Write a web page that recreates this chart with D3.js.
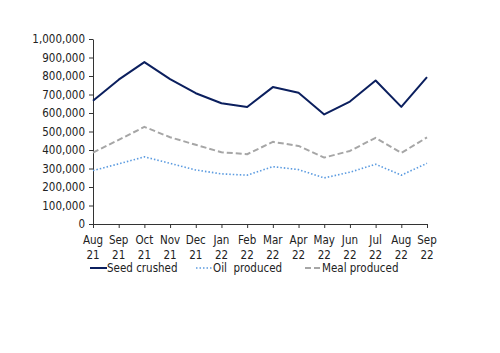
<!DOCTYPE html>
<html>
<head>
<meta charset="utf-8">
<script src="https://cdn.jsdelivr.net/npm/d3@7"></script>
<style>
  body { margin: 0; background: #fff; }
  svg text { font-family: "DejaVu Sans Condensed", "DejaVu Sans", sans-serif; font-size: 11px; fill: #222; }
</style>
</head>
<body>
<svg id="chart" width="500" height="353"></svg>
<script>
// months along the x axis (two-line labels)
var months = ["Aug 21","Sep 21","Oct 21","Nov 21","Dec 21","Jan 22","Feb 22","Mar 22","Apr 22","May 22","Jun 22","Jul 22","Aug 22","Sep 22"];

var seedCrushed   = [666000, 780000, 875000, 783000, 707000, 653000, 632000, 740000, 709000, 592000, 662000, 776000, 633000, 794000];
var oilProduced   = [289000, 325000, 363000, 328000, 292000, 271000, 264000, 310000, 294000, 249000, 280000, 323000, 264000, 328000];
var mealProduced  = [386000, 455000, 525000, 469000, 428000, 388000, 377000, 444000, 422000, 359000, 395000, 466000, 384000, 468000];

var yTicks = [0,100000,200000,300000,400000,500000,600000,700000,800000,900000,1000000];

var series = [
    {name: "Seed crushed",  values: seedCrushed,  color: "#0b1f5e", width: 2,   dash: null},
    {name: "Oil  produced", values: oilProduced,  color: "#5b9be0", width: 1.6, dash: "1.5,2"},
    {name: "Meal produced", values: mealProduced, color: "#a6a6a6", width: 2,   dash: "6,3"}
];

var svg = d3.select("#chart"),
    margin = {top: 39, left: 93, bottom: 129, right: 73},
    width = 500,
    height = 353;

var x = d3.scalePoint()
    .domain(months)
    .range([margin.left, width - margin.right]);

var y = d3.scaleLinear()
    .domain([0, 1000000])
    .range([height - margin.bottom, margin.top]);

var fmt = d3.format(",");

// y axis
var yAxis = svg.append("g")
    .attr("transform", `translate(${margin.left},0)`)
    .call(d3.axisLeft(y).tickValues(yTicks).tickFormat(fmt).tickSize(4).tickSizeOuter(0).tickPadding(4));

// x axis
var xAxis = svg.append("g")
    .attr("transform", `translate(0,${y(0)})`)
    .call(d3.axisBottom(x).tickSize(4).tickSizeOuter(0).tickFormat(""));

svg.selectAll(".domain, .tick line").attr("stroke", "#333").attr("stroke-width", 1);
yAxis.selectAll("text").style("font-size", "11.5px");

// two-line month labels
months.forEach(function(m){
    var parts = m.split(" ");
    var t = svg.append("text")
        .attr("x", x(m))
        .attr("y", y(0) + 20)
        .attr("text-anchor", "middle")
        .style("font-size", "11.5px");
    t.append("tspan").attr("x", x(m)).text(parts[0]);
    t.append("tspan").attr("x", x(m)).attr("dy", 15).text(parts[1]);
});

var line = d3.line()
    .x((d, i) => x(months[i]))
    .y(d => y(d));

// draw meal and oil first, seed on top
[series[2], series[1], series[0]].forEach(function(s){
    svg.append("path")
        .datum(s.values)
        .attr("fill", "none")
        .attr("stroke", s.color)
        .attr("stroke-width", s.width)
        .attr("stroke-dasharray", s.dash)
        .attr("stroke-linejoin", "round")
        .attr("d", line);
});

// legend
var legX = [90, 196, 305];
var legY = 268;
for (var k = 0; k < series.length; k++) {
    svg.append("line")
        .attr("x1", legX[k]).attr("x2", legX[k] + 17)
        .attr("y1", legY).attr("y2", legY)
        .attr("stroke", series[k].color)
        .attr("stroke-width", series[k].width)
        .attr("stroke-dasharray", series[k].dash);
    svg.append("text")
        .attr("x", legX[k] + 17)
        .attr("y", legY)
        .attr("dy", "0.35em")
        .style("font-size", "11.5px")
        .style("white-space", "pre")
        .attr("xml:space", "preserve")
        .text(series[k].name);
}
</script>
</body>
</html>
